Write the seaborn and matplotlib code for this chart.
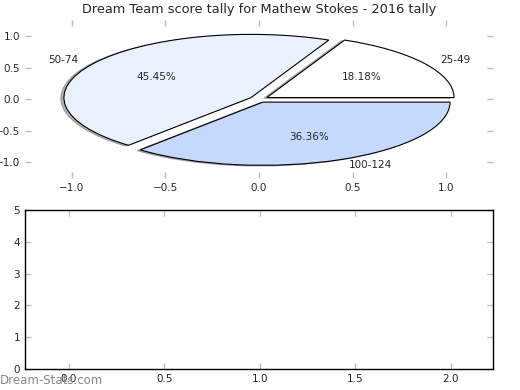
import matplotlib
matplotlib.use("Agg")
import matplotlib.pyplot as plt
import seaborn as sns

# pie data
labels = ["25-49", "50-74", "100-124"]
counts = [2, 5, 4]
colors = ["#ffffff", "#eaf1fe", "#c5d9fc"]
explode = [0.05, 0.05, 0.05]

sns.set_style("white")
plt.rcParams['font.family'] = ['DejaVu Sans']

fig = plt.figure(figsize=(5.2, 3.9), dpi=100)

# top: pie chart with axes ticks but no frame
ax1 = fig.add_axes([0.048, 0.543, 0.900, 0.405])
wedges, texts, autotexts = ax1.pie(
    counts, labels=labels, colors=colors, explode=explode,
    autopct='%.2f%%', startangle=0, frame=True,
    shadow={'ox': -0.012, 'oy': -0.008, 'shade': 0.55},
    wedgeprops=dict(edgecolor='black', linewidth=0.8),
    textprops=dict(fontsize=7.5))
ax1.set_aspect('auto')
ax1.set_xlim(-1.25, 1.25)
ax1.set_ylim(-1.25, 1.25)
ax1.set_xticks([-1.0, -0.5, 0.0, 0.5, 1.0])
ax1.set_yticks([-1.0, -0.5, 0.0, 0.5, 1.0])
for s in ax1.spines.values():
    s.set_visible(False)
ax1.tick_params(axis='both', which='both', direction='in', length=4,
                width=1, color='#c0c0c0', labelsize=7.5,
                top=True, right=True, bottom=True, left=True)
ax1.set_title("Dream Team score tally for Mathew Stokes - 2016 tally",
              fontsize=9.3, pad=5)

# bottom: empty axes
ax2 = fig.add_axes([0.048, 0.054, 0.900, 0.407])
ax2.set_xlim(-0.23, 2.22)
ax2.set_ylim(0, 5)
ax2.set_xticks([0.0, 0.5, 1.0, 1.5, 2.0])
ax2.set_yticks([0, 1, 2, 3, 4, 5])
for s in ax2.spines.values():
    s.set_visible(True)
    s.set_color('black')
    s.set_linewidth(1)
ax2.tick_params(axis='both', which='both', direction='in', length=4,
                width=1, color='#c0c0c0', labelsize=7.5,
                top=True, right=True, bottom=True, left=True)

# watermark
fig.text(0.0, 0.024, "Dream-Stats.com", fontsize=8.5, color='#888888',
         ha='left', va='center')

plt.savefig('out.png', dpi=100)
